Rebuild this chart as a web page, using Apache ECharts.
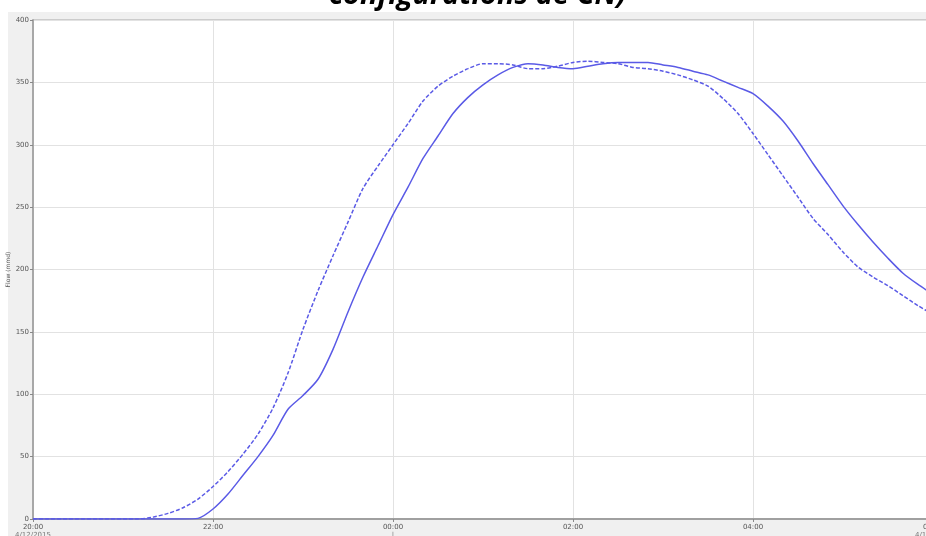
<!DOCTYPE html>
<html>
<head>
<meta charset="utf-8">
<script src="https://cdn.jsdelivr.net/npm/echarts@6/dist/echarts.min.js"></script>
<style>
  html, body { margin: 0; padding: 0; background: #fff; }
  #chart { width: 926px; height: 536px; }
</style>
</head>
<body>
<div id="chart"></div>
<script>
// minutes after 20:00, one sample every 10 minutes
var minutes = [
  0, 10, 20, 30, 40, 50, 60, 70, 80, 90,
  100, 110, 120, 130, 140, 150, 160, 170, 180, 190,
  200, 210, 220, 230, 240, 250, 260, 270, 280, 290,
  300, 310, 320, 330, 340, 350, 360, 370, 380, 390,
  400, 410, 420, 430, 440, 450, 460, 470, 480, 490,
  500, 510, 520, 530, 540, 550, 560, 570, 580, 590, 600
];

// solid line
var flowSolid = [
  0, 0, 0, 0, 0, 0, 0, 0, 0, 0,
  0, 0.5, 8, 20, 35, 50, 67, 88, 99, 112,
  136, 166, 194, 219, 244, 266, 289, 307, 325, 338,
  348, 356, 362, 365, 364, 362, 361, 363, 365, 366,
  366, 366, 364, 362, 359, 356, 351, 346, 341, 331,
  319, 303, 285, 268, 251, 236, 222, 209, 197, 188, 180
];

// dashed line
var flowDashed = [
  0, 0, 0, 0, 0, 0, 0, 0, 1.5, 4.5,
  9, 16, 26, 38, 52, 68, 89, 117, 152, 183,
  211, 238, 265, 283, 300, 317, 335, 347, 355, 361,
  365, 365, 364, 361, 361, 363, 366, 367, 366, 365,
  362, 361, 359, 356, 352, 347, 337, 325, 309, 292,
  275, 258, 241, 228, 214, 202, 194, 187, 179, 171, 164
];

var yTicks = [0, 50, 100, 150, 200, 250, 300, 350, 400];

function pairs(values) {
  return minutes.map(function (m, i) { return [m, values[i]]; });
}

function timeLabel(m) {
  var h = (20 + Math.floor(m / 60)) % 24;
  var mm = m % 60;
  var s = (h < 10 ? '0' : '') + h + ':' + (mm < 10 ? '0' : '') + mm;
  if (m === 0) return s + '\n{d|4/12/2015}';
  if (m === 600) return s + '\n{d|4/13/2015}';
  if (m === 240) return s + '\n{d||}';
  return s;
}

var lineColor = '#5a5ae6';
var myChart = echarts.init(document.getElementById('chart'));

myChart.setOption({
  backgroundColor: '#fff',
  animation: false,
  graphic: [
    {
      type: 'rect', z: -10, silent: true,
      shape: { x: 8, y: 12, width: 930, height: 530 },
      style: { fill: '#f0f0f0' }
    },
    {
      type: 'text', left: 329, top: -19, z: 10,
      style: {
        text: 'configurations de CN)',
        font: 'italic bold 29px "Open Sans"',
        fill: '#000'
      }
    }
  ],
  grid: {
    left: 33, top: 20, width: 900, bottom: 17,
    outerBoundsMode: 'none',
    show: true, backgroundColor: '#fff',
    borderColor: '#a8a8a8', borderWidth: 1
  },
  xAxis: {
    type: 'value', min: 0, max: 600, interval: 120,
    axisLine: { show: true, lineStyle: { color: '#a0a0a0', width: 2 } },
    axisTick: { show: true, length: 3, lineStyle: { color: '#888' } },
    splitLine: { show: true, lineStyle: { color: '#e2e2e2', width: 1 } },
    axisLabel: {
      formatter: timeLabel, fontSize: 7, color: '#555',
      fontFamily: 'DejaVu Sans', margin: 4, lineHeight: 8,
      showMaxLabel: true,
      rich: { d: { fontSize: 7, lineHeight: 8, color: '#777' } }
    }
  },
  yAxis: {
    type: 'value', min: yTicks[0], max: yTicks[yTicks.length - 1], interval: 50,
    name: 'Flow (mmd)', nameLocation: 'middle', nameGap: 22,
    nameMoveOverlap: false,
    nameTextStyle: { fontSize: 6, color: '#555', fontFamily: 'DejaVu Sans' },
    axisLine: { show: true, lineStyle: { color: '#a8a8a8', width: 2 } },
    axisTick: { show: true, length: 3, lineStyle: { color: '#888' } },
    splitLine: { show: true, lineStyle: { color: '#e2e2e2', width: 1 } },
    axisLabel: { fontSize: 7, color: '#555', fontFamily: 'DejaVu Sans', margin: 4 }
  },
  series: [
    {
      name: 'solid', type: 'line', data: pairs(flowSolid),
      showSymbol: false, smooth: 0.25, z: 3,
      lineStyle: { color: lineColor, width: 1.5 }
    },
    {
      name: 'dashed', type: 'line', data: pairs(flowDashed),
      showSymbol: false, smooth: 0.25, z: 3,
      lineStyle: { color: lineColor, width: 1.5, type: [4, 2] }
    }
  ]
});
</script>
</body>
</html>
